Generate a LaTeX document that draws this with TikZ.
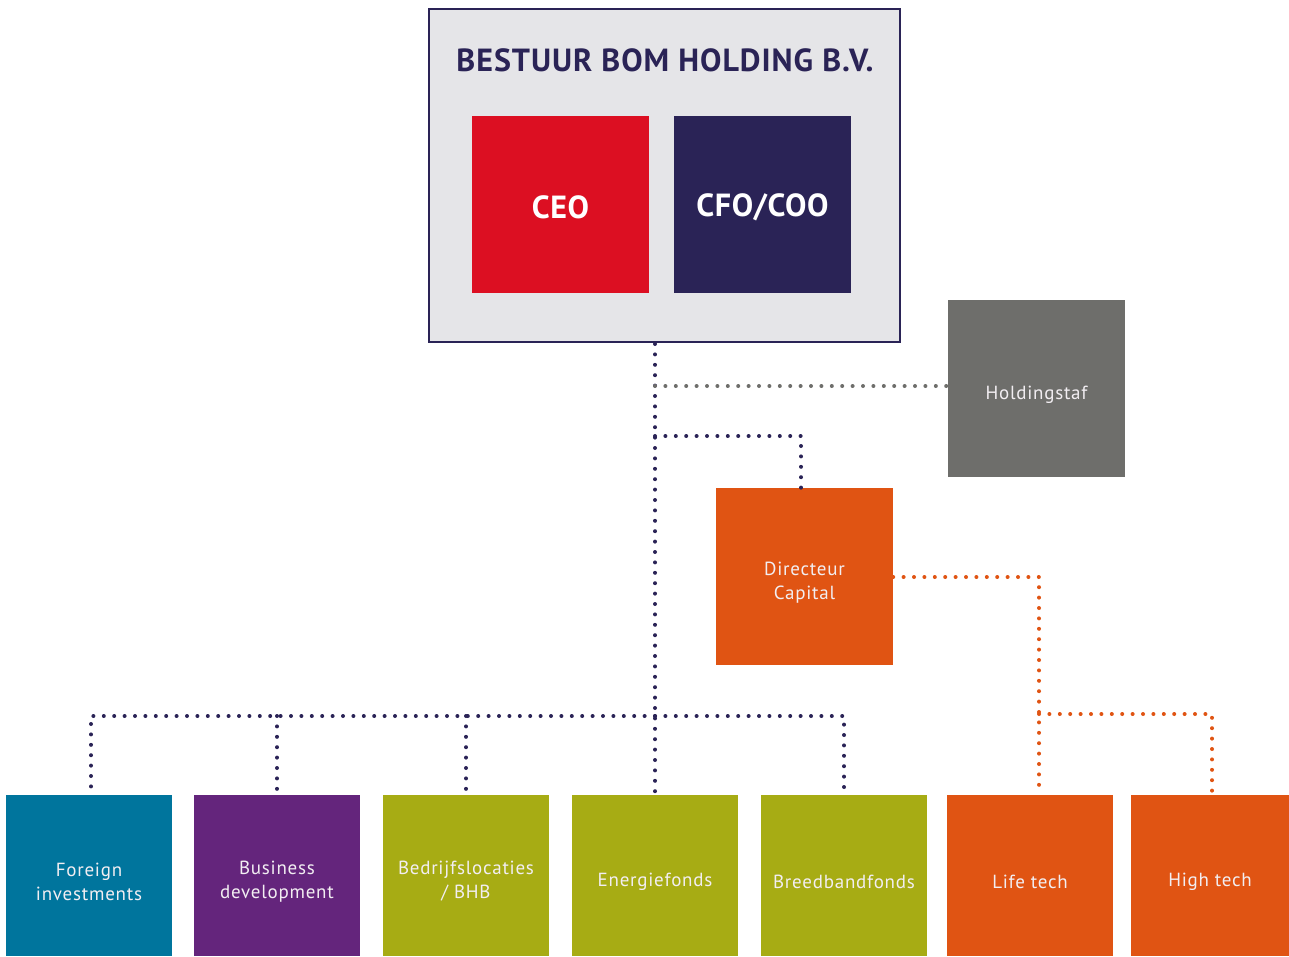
\documentclass[tikz,border=0pt]{standalone}
\usepackage{fontspec}
\setmainfont{PT Sans}
\definecolor{navy}{HTML}{2A2356}
\definecolor{bomred}{HTML}{DC0F22}
\definecolor{panel}{HTML}{E5E5E8}
\definecolor{staf}{HTML}{6E6E6B}
\definecolor{bomorange}{HTML}{E05413}
\definecolor{teal}{HTML}{00759D}
\definecolor{purp}{HTML}{64257C}
\definecolor{olive}{HTML}{A7AC14}
\definecolor{lbl}{HTML}{F2EEF2}
\begin{document}
\begin{tikzpicture}[x=1pt,y=-1pt,
  box/.style={draw=none,inner sep=0pt},
  lab/.style={label={[align=center,text=lbl,inner sep=0pt,yshift=-6pt,font=\fontsize{19}{24}\selectfont\addfontfeature{LetterSpace=4}]center:#1}},
  biglab/.style={label={[text=white,inner sep=0pt,yshift=-3pt,font=\fontsize{32}{36}\selectfont\bfseries\addfontfeature{LetterSpace=2}]center:#1}},
  sq/.style={box,minimum width=177pt,minimum height=177pt},
  low/.style={box,minimum width=166pt,minimum height=161pt},
  dots/.style={line width=4pt,line cap=round,dash pattern=on 0pt off 10.4pt},
  navydots/.style={dots,draw=navy},
  graydots/.style={dots,draw=staf},
  orangedots/.style={dots,draw=bomorange}]
\useasboundingbox (0,0) rectangle (1289,956);
% top panel
\node[draw=navy,line width=2pt,fill=panel,minimum width=471pt,minimum height=333pt,inner sep=0pt] (bestuur) at (664.5,175.5) {};
\node[text=navy,font=\fontsize{32}{36}\selectfont\bfseries\addfontfeature{LetterSpace=3},inner sep=0pt] (title) at (665,60) {BESTUUR BOM HOLDING B.V.};
\node[sq,fill=bomred,biglab={CEO}] (ceo) at (560.5,204.5) {};
\node[sq,fill=navy,biglab={CFO/COO}] (cfo) at (762.5,204.5) {};
% middle
\node[sq,fill=staf,lab={Holdingstaf}] (staf) at (1036.5,388.5) {};
\node[sq,fill=bomorange,lab={Directeur\\Capital}] (dir) at (804.5,576.5) {};
% bottom
\node[low,fill=teal,lab={Foreign\\investments}] (foreign) at (89,875.5) {};
\node[low,fill=purp,lab={Business\\development}] (business) at (277,875.5) {};
\node[low,fill=olive,lab={Bedrijfslocaties\\/ BHB}] (bedrijf) at (466,875.5) {};
\node[low,fill=olive,lab={Energiefonds}] (energie) at (655,875.5) {};
\node[low,fill=olive,lab={Breedbandfonds}] (breed) at (844,875.5) {};
\node[low,fill=bomorange,lab={Life tech}] (life) at (1030,875.5) {};
\node[box,fill=bomorange,minimum width=158pt,minimum height=161pt,lab={High tech}] (high) at (1210,875.5) {};
% junctions
\coordinate (top) at (655,344);
\coordinate (jstaf) at (655,386);
\coordinate (jdir) at (655,436);
\coordinate (jbar) at (655,716);
\coordinate (jorange) at (1039,577);
\coordinate (jhigh) at (1039,714);
% connectors
\draw[navydots] (top) -- (energie.north -| top);
\draw[graydots] (jstaf) -- (jstaf -| staf.west);
\draw[navydots] (jdir) -| (dir.north -| 801,0);
\draw[navydots] (jbar) -| (foreign.north -| 91,0);
\draw[navydots] (jbar -| business.north) -- (business.north);
\draw[navydots] (jbar -| bedrijf.north) -- (bedrijf.north);
\draw[navydots] (jbar) -| (breed.north);
\draw[orangedots] (dir.east |- jorange) -- (jorange) -- (life.north -| jorange);
\draw[orangedots] (jhigh) -| (high.north -| 1212,0);
\end{tikzpicture}
\end{document}
